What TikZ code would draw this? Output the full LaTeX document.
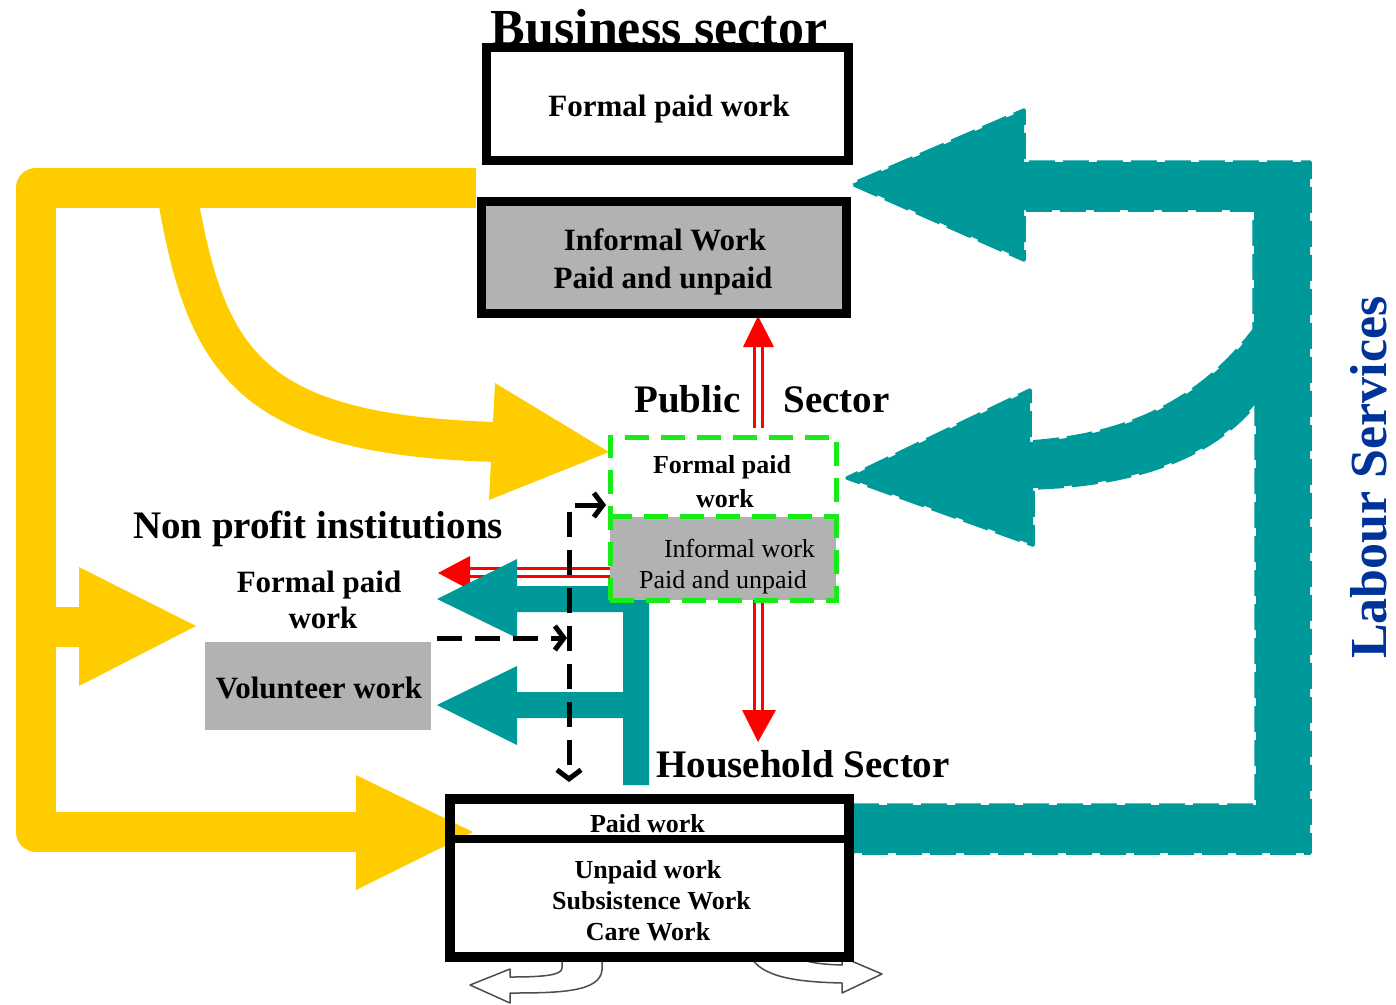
\documentclass[tikz,border=0pt]{standalone}
\usepackage{fontspec}
\setmainfont{Liberation Serif}
\usetikzlibrary{arrows.meta}
\definecolor{gold}{RGB}{255,204,0}
\definecolor{flowteal}{RGB}{0,153,153}
\definecolor{boxgray}{RGB}{178,178,178}
\definecolor{limegreen}{RGB}{25,235,25}
\definecolor{labourblue}{RGB}{0,51,153}
\newcommand\setfs[1]{\fontsize{#1}{#1}\selectfont}

\begin{document}
\begin{tikzpicture}[x=1pt,y=-1pt,
  lbl/.style={anchor=base, inner sep=0pt, font=\setfs{#1}\bfseries},
  plainlbl/.style={anchor=base, inner sep=0pt, font=\setfs{#1}},
  sectorbox/.style={draw=black, line width=9pt, inner sep=0pt},
  goldband/.style={draw=gold, line width=40pt},
  redline/.style={draw=red, line width=3pt, double=white, double distance=5pt},
  greendash/.style={draw=limegreen, line width=5pt, dash pattern=on 24pt off 12pt},
  blackdash/.style={draw=black, line width=5pt, dash pattern=on 25pt off 13pt},
  hollow/.style={draw=black!70, fill=white, line width=1.5pt, line join=round}]
\useasboundingbox (0,0) rectangle (1396,1004);

% ---- yellow flows out of the business sector ----
\draw[goldband, line join=round] (476,187.5) -- (36,187.5) -- (36,832) -- (360,832);
\fill[gold] (356,775) -- (473,832) -- (356,890) -- cycle;
\draw[goldband] (36,627) -- (82,627);
\fill[gold] (79,567) -- (196,626) -- (79,686) -- cycle;
\draw[goldband] (176,187.5) .. controls (205,360) and (245,435) .. (497,442);
\fill[gold] (495,383) -- (609,452) -- (489,500) -- cycle;

% ---- red double arrows of the public sector ----
\draw[redline] (758,428) -- (758,345);
\fill[red] (758,316) -- (774,347) -- (743,347) -- cycle;
\draw[redline] (758,600) -- (758,712);
\fill[red] (742,710) -- (776,710) -- (758,742) -- cycle;
\draw[redline] (610,572.5) -- (468,572.5);
\fill[red] (470,556) -- (438,573) -- (470,590) -- cycle;

% ---- labour services loop (teal) ----
\filldraw[fill=flowteal, draw=flowteal, line width=3.5pt, dash pattern=on 26pt off 8pt, line join=round]
  (853,805) -- (1256,805) -- (1256,403)
  .. controls (1210,460) and (1130,485) .. (1033,488)
  -- (1033,545) -- (847,478) -- (1030,390) -- (1030,442)
  .. controls (1130,435) and (1200,400) .. (1254,330)
  -- (1254,210) -- (1024,210) -- (1024,260) -- (852,184) -- (1024,110)
  -- (1024,162) -- (1310,162) -- (1310,853) -- (853,853) -- cycle;

% ---- teal flows from households to non profit institutions ----
\fill[flowteal] (649,586) -- (517,586) -- (517,559) -- (437,599) -- (517,638)
  -- (517,612) -- (623,612) -- (623,692) -- (517,692) -- (517,666)
  -- (437,705) -- (517,745) -- (517,718) -- (623,718) -- (623,785)
  -- (649,785) -- cycle;

% ---- public sector ----
\node[fill=boxgray, minimum width=226pt, minimum height=83pt, inner sep=0pt] (pubinf) at (723,558.5) {};
\node[greendash, minimum width=226pt, minimum height=163pt, inner sep=0pt] (pub) at (723,518.5) {};
\draw[greendash] (pub.west |- pubinf.north) -- (pub.east |- pubinf.north);
\node[lbl=39] (publ) at (687.5,412) {Public};
\node[lbl=39] (pubr) at (836.5,412) {Sector};
\node[lbl=26] (pubf1) at (722,473) {Formal paid};
\node[lbl=26] (pubf2) at (725,507) {work};
\node[plainlbl=26] (pubi1) at (739.5,557) {Informal work};
\node[plainlbl=26] (pubi2) at (723,588) {Paid and unpaid};

% ---- dashed flows of volunteer work ----
\draw[blackdash, {Straight Barb[length=9pt,width=24pt]}-{Straight Barb[length=9pt,width=24pt]}]
  (606,505) -- (569,505) -- (569,782);
\draw[blackdash, -{Straight Barb[length=9pt,width=24pt]}] (437,638) -- (567,638);

% ---- non profit institutions ----
\node[lbl=39] (npi) at (318,538) {Non profit institutions};
\node[lbl=31] (npif1) at (319,592) {Formal paid};
\node[lbl=31] (npif2) at (323,628) {work};
\node[fill=boxgray, minimum width=226pt, minimum height=88pt, inner sep=0pt] (vol) at (318,686) {};
\node[lbl=31] (voll) at (319,698) {Volunteer work};

% ---- business sector ----
\node[sectorbox, fill=white, minimum width=362pt, minimum height=113pt] (bfp) at (667.5,104) {};
\node[sectorbox, fill=boxgray, minimum width=365pt, minimum height=112pt] (binf) at (664,257.5) {};
\node[lbl=52] (bs) at (659,45) {Business sector};
\node[lbl=31] (bfpl) at (669,116) {Formal paid work};
\node[lbl=31] (binf1) at (665,250) {Informal Work};
\node[lbl=31] (binf2) at (663,288) {Paid and unpaid};

% ---- household sector ----
\draw[hollow] (602,955) -- (602,970) .. controls (600,992) and (560,993) .. (510,993)
  -- (510,1003) -- (470,985) -- (510,969) -- (510,977)
  .. controls (545,977) and (562,975) .. (562,968) -- (562,955) -- cycle;
\draw[hollow] (750,955) .. controls (760,978) and (800,982) .. (842,983)
  -- (842,993) -- (882,974) -- (842,957) -- (842,965)
  .. controls (810,964) and (800,960) .. (795,955) -- cycle;
\node[draw=black, line width=10pt, minimum width=399pt, minimum height=158pt, inner sep=0pt] (hh) at (649.5,878) {};
\coordinate (hhdiv) at (0,839);
\draw[line width=8pt] (hh.west |- hhdiv) -- (hh.east |- hhdiv);
\node[lbl=39] (hhl) at (803,777) {Household Sector};
\node[lbl=26] (hhp) at (647.5,832) {Paid work};
\node[lbl=26] (hhu1) at (648,878) {Unpaid work};
\node[lbl=26] (hhu2) at (651.5,909) {Subsistence Work};
\node[lbl=26] (hhu3) at (648,940) {Care Work};

% ---- caption of the loop ----
\node[rotate=90, anchor=base, inner sep=0pt, font=\setfs{52}\bfseries, text=labourblue] (ls) at (1386,477.5) {Labour Services};
\end{tikzpicture}
\end{document}
